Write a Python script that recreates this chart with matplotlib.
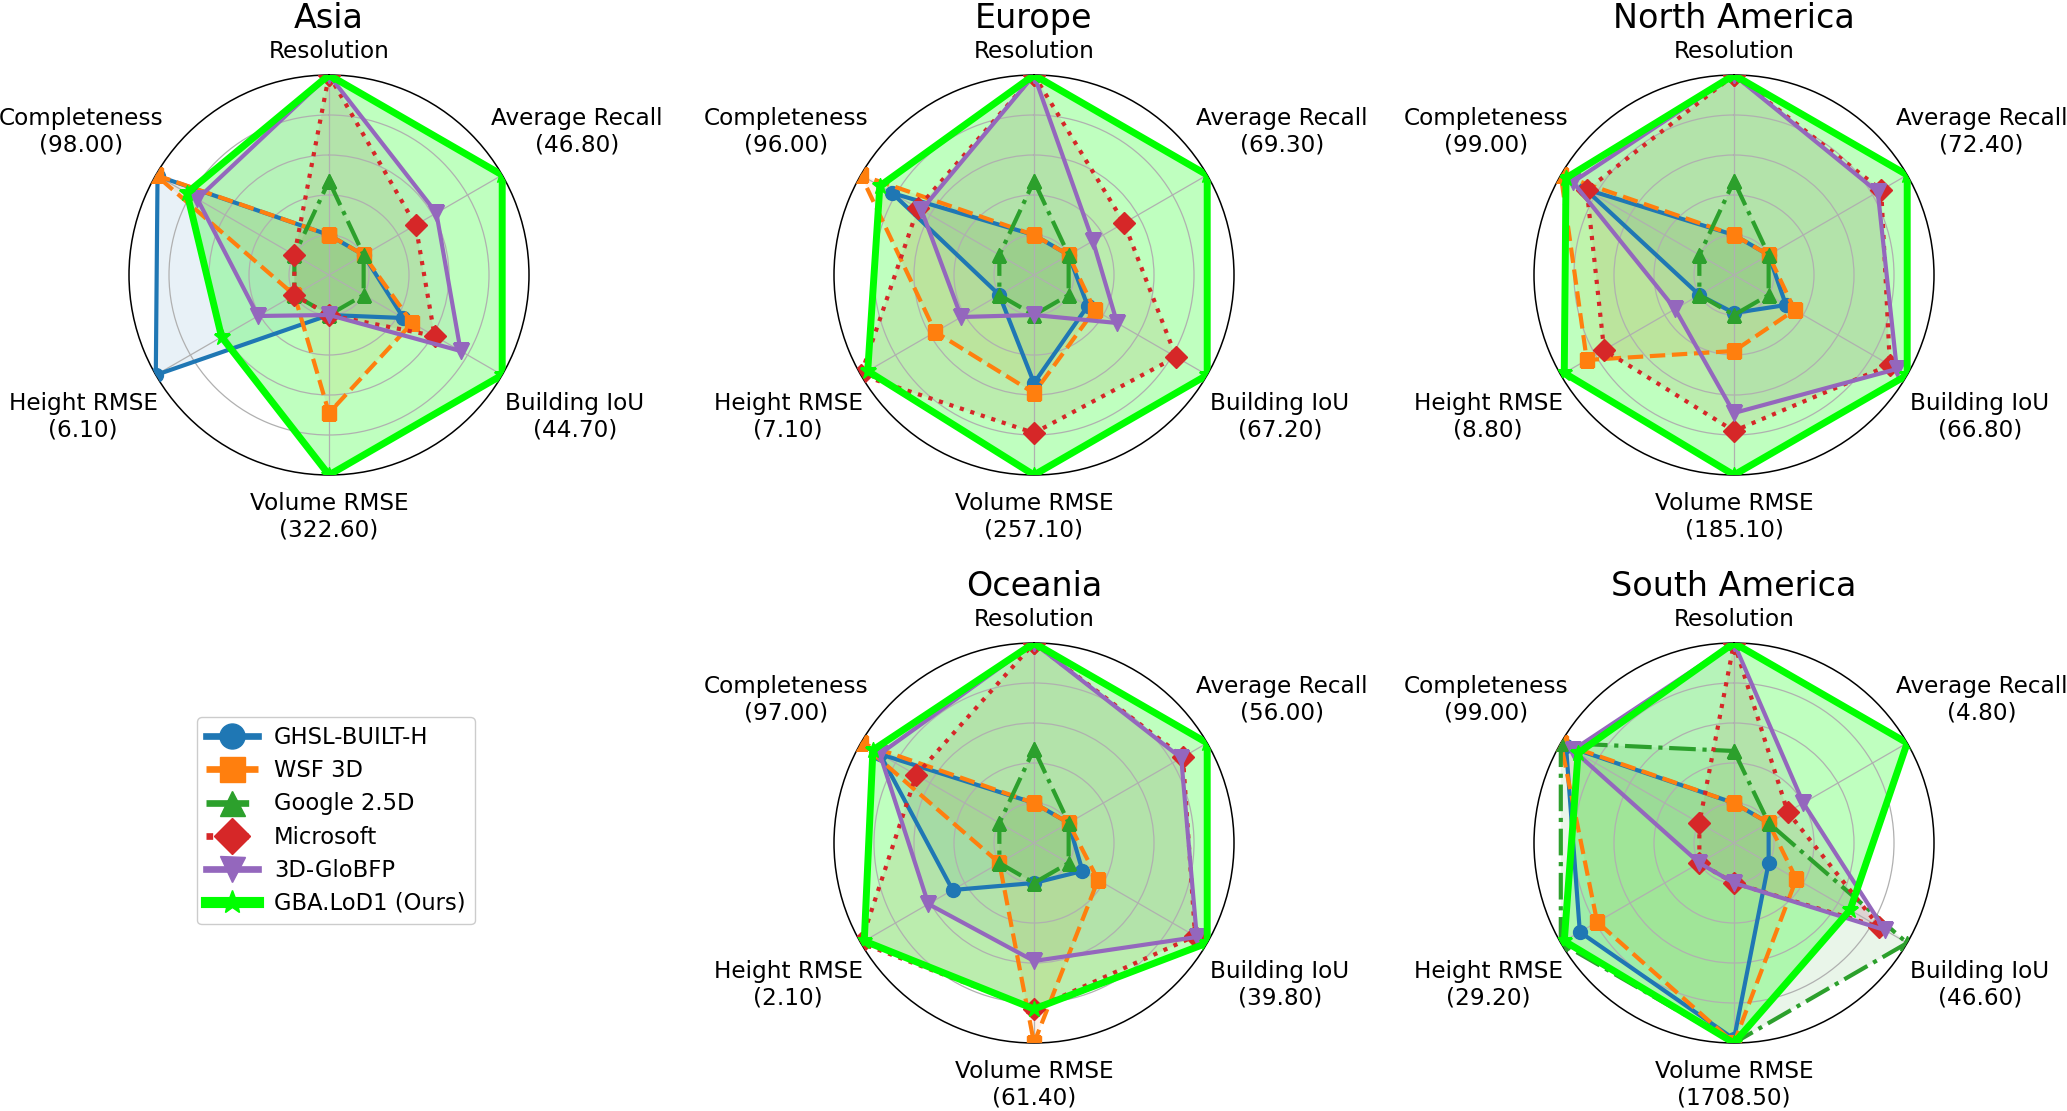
import numpy as np
import matplotlib
matplotlib.use("Agg")
import matplotlib.pyplot as plt
from matplotlib.lines import Line2D

# ---------------- data ----------------
metrics = ["Resolution", "Average Recall", "Building IoU",
           "Volume RMSE", "Height RMSE", "Completeness"]
regions = ["Asia", "Europe", "North America", "Oceania", "South America"]

# GBA.LoD1 raw values shown in axis labels (per region)
gba_recall = [46.80, 69.30, 72.40, 56.00, 4.80]
gba_iou = [44.70, 67.20, 66.80, 39.80, 46.60]
gba_volume_rmse = [322.60, 257.10, 185.10, 61.40, 1708.50]
gba_height_rmse = [6.10, 7.10, 8.80, 2.10, 29.20]
gba_completeness = [98.00, 96.00, 99.00, 97.00, 99.00]

methods = ["GHSL-BUILT-H", "WSF 3D", "Google 2.5D", "Microsoft", "3D-GloBFP", "GBA.LoD1 (Ours)"]

# normalised scores, order: Resolution, Avg Recall, Building IoU, Volume RMSE, Height RMSE, Completeness
ghsl = [
    [0.20, 0.20, 0.43, 0.20, 1.00, 0.99],
    [0.20, 0.20, 0.31, 0.54, 0.20, 0.82],
    [0.20, 0.20, 0.30, 0.19, 0.20, 0.86],
    [0.20, 0.20, 0.28, 0.20, 0.47, 0.89],
    [0.20, 0.20, 0.20, 0.98, 0.89, 0.97],
]
wsf = [
    [0.20, 0.20, 0.48, 0.69, 0.20, 1.00],
    [0.20, 0.20, 0.35, 0.59, 0.57, 1.00],
    [0.20, 0.20, 0.35, 0.38, 0.85, 1.00],
    [0.20, 0.20, 0.37, 1.00, 0.20, 1.00],
    [0.20, 0.20, 0.36, 1.00, 0.79, 1.00],
]
google = [
    [0.47, 0.20, 0.20, 0.20, 0.20, 0.20],
    [0.47, 0.20, 0.20, 0.20, 0.20, 0.20],
    [0.47, 0.20, 0.20, 0.20, 0.20, 0.20],
    [0.47, 0.20, 0.20, 0.20, 0.20, 0.20],
    [0.46, 0.20, 1.00, 1.00, 1.00, 1.00],
]
microsoft = [
    [1.00, 0.50, 0.61, 0.20, 0.20, 0.20],
    [1.00, 0.52, 0.82, 0.79, 1.00, 0.67],
    [1.00, 0.85, 0.90, 0.78, 0.75, 0.85],
    [1.00, 0.86, 0.93, 0.83, 1.00, 0.68],
    [1.00, 0.31, 0.84, 0.20, 0.20, 0.20],
]
globfp = [
    [1.00, 0.62, 0.76, 0.20, 0.41, 0.76],
    [1.00, 0.34, 0.48, 0.20, 0.42, 0.65],
    [1.00, 0.83, 0.94, 0.69, 0.34, 0.93],
    [1.00, 0.85, 0.94, 0.59, 0.61, 0.89],
    [1.00, 0.40, 0.87, 0.20, 0.20, 0.93],
]
gba = [
    [1.00, 1.00, 1.00, 1.00, 0.62, 0.82],
    [1.00, 1.00, 1.00, 1.00, 0.96, 0.89],
    [1.00, 1.00, 1.00, 1.00, 0.98, 0.97],
    [1.00, 1.00, 1.00, 0.83, 0.98, 0.93],
    [1.00, 1.00, 0.67, 1.00, 0.98, 0.90],
]

series = [ghsl, wsf, google, microsoft, globfp, gba]
colors = ["#1f77b4", "#ff7f0e", "#2ca02c", "#d62728", "#9467bd", "#00ff00"]
styles = ["-", "--", "-.", ":", "-", "-"]
markers = ["o", "s", "^", "D", "v", "*"]
lws = [3.0, 3.0, 3.0, 3.0, 3.0, 5.0]
msz = [10, 10, 10, 11, 11, 12]
falpha = [0.1, 0.1, 0.1, 0.1, 0.1, 0.25]

# ---------------- layout ----------------
W, H = 2067, 1111
fig = plt.figure(figsize=(W / 100, H / 100), dpi=100)
centers = [(329, 275), (1034, 275), (1734, 275), (1034, 843), (1734, 843)]
R = 200

angles = np.linspace(0, 2 * np.pi, len(metrics), endpoint=False)
label_r = [1.12, 1.43, 1.42, 1.21, 1.42, 1.43]

for k, region in enumerate(regions):
    cx, cy = centers[k]
    ax = fig.add_axes([(cx - R) / W, 1 - (cy + R) / H, 2 * R / W, 2 * R / H], polar=True)
    ax.set_theta_offset(np.pi / 2)
    ax.set_theta_direction(-1)
    ax.set_ylim(0, 1)
    ax.set_yticks([0.2, 0.4, 0.6, 0.8])
    ax.set_yticklabels([])
    ax.set_xticks(angles)
    ax.set_xticklabels([])
    ax.grid(True, color="#b0b0b0", linewidth=0.9)
    ax.spines["polar"].set_linewidth(1.1)
    ax.spines["polar"].set_color("black")

    th = np.concatenate([angles, angles[:1]])
    for s, vals in enumerate(series):
        v = np.array(vals[k] + vals[k][:1])
        ax.fill(th, v, color=colors[s], alpha=falpha[s], zorder=1, linewidth=0)
    for s, vals in enumerate(series):
        v = np.array(vals[k] + vals[k][:1])
        ax.plot(th, v, color=colors[s], linestyle=styles[s], linewidth=lws[s],
                marker=markers[s], markersize=msz[s], zorder=3 + s)

    texts = [
        "Resolution",
        f"Average Recall\n({gba_recall[k]:.2f})",
        f"Building IoU\n({gba_iou[k]:.2f})",
        f"Volume RMSE\n({gba_volume_rmse[k]:.2f})",
        f"Height RMSE\n({gba_height_rmse[k]:.2f})",
        f"Completeness\n({gba_completeness[k]:.2f})",
    ]
    for a, t, r in zip(angles, texts, label_r):
        ax.text(a, r, t, ha="center", va="center", multialignment="center",
                fontsize=16.7, clip_on=False)
    ax.text(0.5, 1.142, region, transform=ax.transAxes, ha="center", va="center",
            fontsize=24)

handles = [Line2D([0], [0], color=colors[s], linestyle=styles[s], linewidth=lws[s] * 1.6,
                  marker=markers[s], markersize=18) for s in range(len(methods))]
fig.legend(handles, methods, loc="upper left", bbox_to_anchor=(197 / W, 1 - 717 / H),
           fontsize=16.3, handlelength=2.3, framealpha=1, borderaxespad=0,
           labelspacing=0.45, handletextpad=0.7)

fig.savefig("out.png", dpi=100)
